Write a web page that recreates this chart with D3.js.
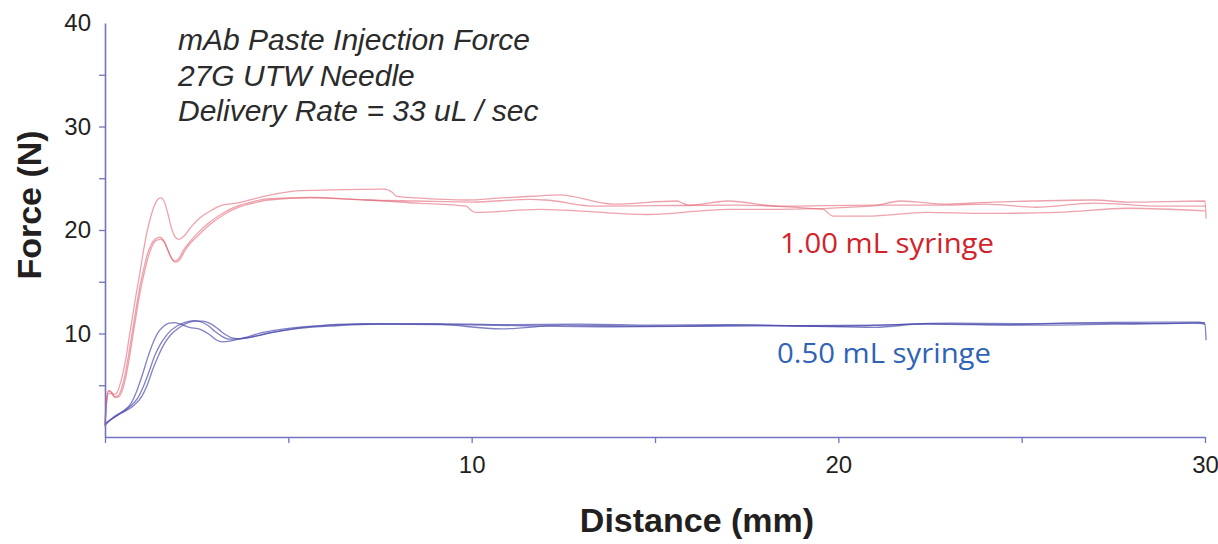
<!DOCTYPE html>
<html>
<head>
<meta charset="utf-8">
<script src="https://cdn.jsdelivr.net/npm/d3@7"></script>
<style>
  html, body { margin: 0; padding: 0; background: #ffffff; }
  svg { display: block; }
</style>
</head>
<body>
<svg id="chart" width="1218" height="544"></svg>
<script>
// ---------------- DATA ----------------
const xTickValues = [0, 5, 10, 15, 20, 25, 30];
const xTickLabels = ["", "", "10", "", "20", "", "30"];
const yTickValues = [5, 10, 15, 20, 25, 30, 35, 40];
const yTickLabels = ["", "10", "", "20", "", "30", "", "40"];

const annotationLines = ["mAb Paste Injection Force", "27G UTW Needle", "Delivery Rate = 33 uL / sec"];
const seriesNames = ["1.00 mL syringe", "0.50 mL syringe"];
const xTitle = "Distance (mm)";
const yTitle = "Force (N)";

// 1.00 mL syringe – three runs
const red1Distance = [0, 0.04, 0.1, 0.16, 0.25, 0.33, 0.45, 0.55, 0.65, 0.75, 0.85, 0.95, 1.05, 1.15, 1.25, 1.35, 1.45, 1.53, 1.62, 1.72, 1.82, 1.92, 2.02, 2.15, 2.35, 2.6, 2.9, 3.2, 3.6, 4.4, 5.3, 6.5, 7.6, 7.85, 7.95, 8.5, 9.86, 10.8, 11.86, 12.4, 13.85, 15.6, 15.75, 15.9, 17.0, 18.4, 20.9, 22.95, 24.0, 25.4, 26.95, 28.8, 30.0];
const red1Force    = [1.2, 3.6, 4.5, 4.4, 4.1, 4.3, 5.6, 7.2, 9.4, 11.6, 13.8, 15.8, 18.0, 19.9, 21.3, 22.4, 23.0, 23.1, 22.7, 21.5, 20.1, 19.3, 19.1, 19.4, 20.3, 21.2, 21.9, 22.4, 22.6, 23.3, 23.8, 23.9, 23.95, 23.6, 23.25, 23.1, 22.9, 23.1, 23.3, 23.4, 22.5, 22.8, 22.6, 22.4, 22.8, 22.3, 22.4, 22.4, 22.5, 22.2, 22.6, 22.3, 22.3];

const red2Distance = [0, 0.04, 0.1, 0.17, 0.26, 0.36, 0.46, 0.56, 0.66, 0.76, 0.86, 0.96, 1.06, 1.16, 1.26, 1.38, 1.5, 1.6, 1.7, 1.8, 1.9, 2.0, 2.15, 2.3, 2.5, 2.8, 3.2, 3.6, 4.0, 4.4, 5.6, 7.14, 8.5, 10.0, 11.6, 12.0, 13.4, 15.0, 17.2, 19.6, 19.7, 19.85, 20.9, 22.4, 24.0, 26.0, 27.9, 30.0];
const red2Force    = [1.1, 3.4, 4.4, 4.3, 3.9, 4.0, 4.8, 6.3, 8.3, 10.5, 12.7, 14.7, 16.3, 17.7, 18.6, 19.15, 19.3, 19.0, 18.2, 17.4, 17.0, 17.2, 18.1, 18.8, 19.6, 20.6, 21.6, 22.3, 22.7, 23.0, 23.15, 22.9, 22.8, 22.7, 22.95, 22.9, 22.3, 22.35, 22.4, 22.0, 21.7, 21.35, 21.35, 21.7, 21.6, 21.7, 22.1, 21.85];

const red3Distance = [0, 0.04, 0.1, 0.18, 0.28, 0.38, 0.48, 0.58, 0.68, 0.78, 0.88, 0.98, 1.08, 1.18, 1.28, 1.4, 1.52, 1.62, 1.72, 1.82, 1.93, 2.03, 2.18, 2.35, 2.55, 2.85, 3.25, 3.65, 4.05, 4.45, 5.6, 7.14, 8.5, 9.86, 9.95, 10.1, 11.86, 14.8, 17.0, 18.4, 20.9, 21.7, 22.95, 24.2, 25.3, 26.95, 27.9, 30.0, 30.03];
const red3Force    = [1.0, 3.2, 4.2, 4.2, 3.8, 3.9, 4.6, 6.0, 8.0, 10.2, 12.4, 14.4, 16.0, 17.4, 18.4, 19.0, 19.1, 18.8, 18.0, 17.2, 16.9, 17.1, 18.0, 18.8, 19.5, 20.5, 21.5, 22.2, 22.6, 22.9, 23.1, 22.9, 22.6, 22.3, 22.0, 21.7, 22.0, 21.5, 22.0, 22.0, 22.3, 22.8, 22.5, 22.7, 22.8, 22.9, 22.7, 22.8, 21.1];

// 0.50 mL syringe – three runs
const blue1Distance = [0, 0.1, 0.3, 0.5, 0.7, 0.85, 1.0, 1.15, 1.3, 1.45, 1.6, 1.75, 1.9, 2.05, 2.3, 2.6, 2.85, 3.05, 3.2, 3.45, 3.8, 4.3, 5.0, 6.0, 7.0, 9.0, 10.8, 12.5, 15.0, 17.5, 20.0, 22.4, 25.0, 27.5, 29.7, 30.0];
const blue1Force    = [1.1, 1.5, 2.0, 2.5, 3.2, 4.3, 5.8, 7.5, 9.0, 10.1, 10.7, 11.0, 11.05, 10.9, 10.6, 10.4, 9.9, 9.35, 9.2, 9.3, 9.6, 10.1, 10.5, 10.8, 10.95, 10.9, 10.45, 10.8, 10.7, 10.8, 10.7, 10.9, 10.8, 10.9, 11.0, 10.9];

const blue2Distance = [0, 0.3, 0.5, 0.7, 0.9, 1.05, 1.2, 1.35, 1.5, 1.65, 1.8, 2.0, 2.2, 2.4, 2.6, 2.8, 3.0, 3.2, 3.4, 3.6, 3.9, 4.4, 5.2, 6.2, 7.2, 9.0, 11.0, 13.0, 15.0, 17.0, 19.0, 21.0, 23.0, 25.0, 27.0, 29.0, 29.85, 30.0, 30.03];
const blue2Force    = [1.2, 2.1, 2.5, 3.0, 3.8, 4.9, 6.3, 7.8, 8.9, 9.7, 10.3, 10.8, 11.1, 11.25, 11.15, 10.8, 10.2, 9.7, 9.45, 9.45, 9.6, 10.0, 10.5, 10.8, 10.9, 10.95, 10.85, 10.9, 10.8, 10.85, 10.75, 10.8, 11.0, 10.95, 11.05, 11.1, 11.1, 10.9, 9.35];

const blue3Distance = [0, 0.3, 0.6, 0.8, 1.0, 1.15, 1.3, 1.45, 1.6, 1.8, 2.0, 2.2, 2.45, 2.65, 2.9, 3.1, 3.3, 3.5, 3.7, 4.0, 4.5, 5.3, 6.3, 7.5, 9.5, 11.5, 13.5, 16.0, 18.5, 21.0, 22.4, 24.5, 26.5, 28.5, 30.0];
const blue3Force    = [1.3, 2.0, 2.6, 3.1, 3.9, 5.0, 6.5, 7.8, 8.9, 9.9, 10.5, 10.95, 11.2, 11.2, 10.9, 10.4, 9.85, 9.55, 9.5, 9.65, 10.05, 10.5, 10.75, 10.9, 10.85, 10.75, 10.65, 10.7, 10.75, 10.6, 10.95, 10.85, 11.0, 10.95, 11.05];

// ---------------- CHART ----------------
const svg = d3.select("#chart");
const margin = { left: 105, right: 13, top: 23, bottom: 107 };
const W = 1218, H = 544;

const x = d3.scaleLinear().domain([0, 30]).range([margin.left, W - margin.right]);
const y = d3.scaleLinear().domain([0, 40]).range([H - margin.bottom, margin.top]);

const axisColor = "#7373c4";
const textColor = "#231f20";

const zip = (xs, ys) => xs.map((d, i) => [d, ys[i]]);
const runs = [
  { pts: zip(red1Distance, red1Force), color: "#e05567", op: 0.55 },
  { pts: zip(red2Distance, red2Force), color: "#e05567", op: 0.55 },
  { pts: zip(red3Distance, red3Force), color: "#e05567", op: 0.55 },
  { pts: zip(blue1Distance, blue1Force), color: "#4a4aae", op: 0.7 },
  { pts: zip(blue2Distance, blue2Force), color: "#4a4aae", op: 0.7 },
  { pts: zip(blue3Distance, blue3Force), color: "#4a4aae", op: 0.7 }
];

const line = d3.line().x(d => x(d[0])).y(d => y(d[1])).curve(d3.curveMonotoneX);

svg.append("g").selectAll("path").data(runs).join("path")
  .attr("d", d => line(d.pts))
  .attr("fill", "none")
  .attr("stroke", d => d.color)
  .attr("stroke-opacity", d => d.op)
  .attr("stroke-width", 1.3);

// X axis
const xAxis = d3.axisBottom(x).tickValues(xTickValues)
  .tickFormat((d, i) => xTickLabels[i]).tickSize(6).tickSizeOuter(0).tickPadding(13);
const gx = svg.append("g").attr("transform", `translate(0,${y(0)})`).call(xAxis);
gx.select(".domain").attr("stroke", axisColor).attr("stroke-width", 1.6);
gx.selectAll(".tick line").attr("stroke", axisColor).attr("stroke-width", 1.3);
gx.selectAll(".tick text").attr("fill", textColor)
  .style("font-family", "'Liberation Sans', Arial, sans-serif").style("font-size", "24px");

// Y axis
const yAxis = d3.axisLeft(y).tickValues(yTickValues)
  .tickFormat((d, i) => yTickLabels[i]).tickSize(6).tickSizeOuter(0).tickPadding(8);
const gy = svg.append("g").attr("transform", `translate(${x(0)},0)`).call(yAxis);
gy.select(".domain").attr("stroke", axisColor).attr("stroke-width", 1.6);
gy.selectAll(".tick line").attr("stroke", (d) => d === 40 ? "none" : axisColor).attr("stroke-width", 1.3);
gy.selectAll(".tick text").attr("fill", textColor)
  .style("font-family", "'Liberation Sans', Arial, sans-serif").style("font-size", "24px");

// Axis titles
svg.append("text")
  .attr("x", 697).attr("y", 532)
  .attr("text-anchor", "middle")
  .attr("fill", textColor)
  .style("font-family", "'Liberation Sans', Arial, sans-serif")
  .style("font-weight", "bold").style("font-size", "34px")
  .text(xTitle);

svg.append("text")
  .attr("transform", "translate(41,205) rotate(-90)")
  .attr("text-anchor", "middle")
  .attr("fill", textColor)
  .style("font-family", "'Liberation Sans', Arial, sans-serif")
  .style("font-weight", "bold").style("font-size", "34px")
  .text(yTitle);

// Annotation
svg.append("g").selectAll("text").data(annotationLines).join("text")
  .attr("x", 178).attr("y", (d, i) => 50 + i * 35.5)
  .attr("fill", "#2b2b2b")
  .style("font-family", "'Liberation Sans', Arial, sans-serif")
  .style("font-style", "italic").style("font-size", "30px")
  .text(d => d);

// Series labels
const labelInfo = [
  { text: seriesNames[0], x: 780, y: 253, color: "#d2232a" },
  { text: seriesNames[1], x: 777, y: 363, color: "#2f63b6" }
];
svg.append("g").selectAll("text").data(labelInfo).join("text")
  .attr("x", d => d.x).attr("y", d => d.y)
  .attr("fill", d => d.color)
  .attr("textLength", 214).attr("lengthAdjust", "spacingAndGlyphs")
  .style("font-family", "'Open Sans', 'Noto Sans', sans-serif")
  .style("font-size", "27px")
  .text(d => d.text);
</script>
</body>
</html>
